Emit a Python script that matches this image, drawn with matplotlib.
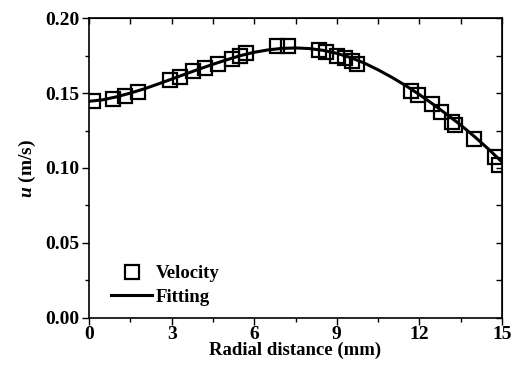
import matplotlib
matplotlib.use("Agg")
import matplotlib.pyplot as plt
from matplotlib.ticker import MultipleLocator, FormatStrFormatter

plt.rcParams['font.family'] = 'Liberation Serif'
plt.rcParams['font.weight'] = 'bold'
plt.rcParams['mathtext.fontset'] = 'custom'
plt.rcParams['mathtext.it'] = 'Liberation Serif:italic:bold'
plt.rcParams['mathtext.rm'] = 'Liberation Serif:bold'

# measured velocity
vel_x = [0.15, 0.87, 1.31, 1.78, 2.94, 3.30, 3.78, 4.20, 4.69, 5.20, 5.48, 5.70,
         6.83, 7.23, 8.35, 8.60, 9.00, 9.30, 9.55, 9.75,
         11.70, 11.95, 12.46, 12.78, 13.20, 13.30, 14.00, 14.75, 14.90]
vel_y = [0.1445, 0.1460, 0.1480, 0.1510, 0.1590, 0.1610, 0.1645, 0.1670, 0.1695, 0.1730, 0.1750, 0.1765,
         0.1815, 0.1815, 0.1785, 0.1775, 0.1750, 0.1735, 0.1715, 0.1695,
         0.1515, 0.1490, 0.1425, 0.1375, 0.1305, 0.1285, 0.1195, 0.1070, 0.1020]

# fitted curve
fit_x = [0, 0.5, 1, 1.5, 2, 2.5, 3, 3.5, 4, 4.5, 5, 5.5, 6, 6.5, 7, 7.5,
         8, 8.5, 9, 9.5, 10, 10.5, 11, 11.5, 12, 12.5, 13, 13.5, 14, 14.5, 15]
fit_y = [0.1445, 0.1455, 0.1475, 0.1500, 0.1528, 0.1560, 0.1593, 0.1627, 0.1660, 0.1692, 0.1722,
         0.1750, 0.1772, 0.1788, 0.1798, 0.1801, 0.1797, 0.1785, 0.1765, 0.1737, 0.1700,
         0.1655, 0.1605, 0.1550, 0.1490, 0.1425, 0.1357, 0.1287, 0.1210, 0.1128, 0.1040]

fig = plt.figure(figsize=(5.18, 3.70), dpi=100)
ax = fig.add_axes([0.172, 0.141, 0.797, 0.81])

ax.plot(vel_x, vel_y, 's', ms=10, mfc='none', mec='black', mew=1.6, label='Velocity')
ax.plot(fit_x, fit_y, '-', color='black', lw=2.2, label='Fitting')

ax.set_xlim(0, 15)
ax.set_ylim(0, 0.20)
ax.xaxis.set_major_locator(MultipleLocator(3))
ax.xaxis.set_minor_locator(MultipleLocator(1.5))
ax.yaxis.set_major_locator(MultipleLocator(0.05))
ax.yaxis.set_minor_locator(MultipleLocator(0.025))
ax.yaxis.set_major_formatter(FormatStrFormatter('%.2f'))

ax.tick_params(which='both', direction='out', labelsize=14, width=1.0)
ax.tick_params(axis='x', pad=1)
ax.tick_params(axis='y', pad=2)
ax.tick_params(which='major', length=5)
ax.tick_params(which='minor', length=3)

# mirrored ticks on top and right, pointing inward
sec_x = ax.secondary_xaxis('top')
sec_x.xaxis.set_major_locator(MultipleLocator(1.5))
sec_x.tick_params(direction='in', length=4, width=1.0, labeltop=False)
sec_y = ax.secondary_yaxis('right')
sec_y.yaxis.set_major_locator(MultipleLocator(0.025))
sec_y.tick_params(direction='in', length=4, width=1.0, labelright=False)

for s in ax.spines.values():
    s.set_linewidth(1.2)

ax.set_xlabel('Radial distance (mm)', fontsize=13.5, fontweight='bold', labelpad=-1)
ax.set_ylabel(r'$u$ (m/s)', fontsize=14, fontweight='bold', labelpad=5)

ax.legend(loc='lower left', frameon=False, fontsize=13.5, handlelength=2.2,
          handletextpad=0.2, borderaxespad=0.0, labelspacing=0.35,
          bbox_to_anchor=(0.035, 0.015))

fig.savefig('out.png', dpi=100)
